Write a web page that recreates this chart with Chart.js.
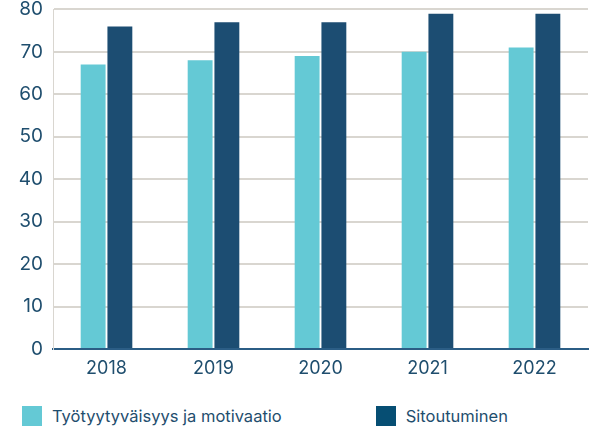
<!DOCTYPE html>
<html lang="fi">
<head>
<meta charset="UTF-8" />
<title>Työtyytyväisyys ja sitoutuminen</title>
<script src="https://cdn.jsdelivr.net/npm/chart.js"></script>
<style>
  body { margin: 0; background: #fff; font-family: Inter, "Open Sans", sans-serif; overflow: hidden; }
  #wrap { position: relative; width: 593px; height: 428px; overflow: hidden; }
  #box { position: absolute; left: 0; top: -12px; width: 593px; height: 397px; }
  #legend { position: absolute; left: 22px; top: 406px; display: flex; }
  .item { display: flex; align-items: center; font-size: 16.5px; color: #1f4e6e; }
  .sw { width: 20px; height: 20px; margin-right: 10px; }
</style>
</head>
<body>
<div id="wrap">
  <div id="box"><canvas id="chart"></canvas></div>
  <div id="legend"></div>
</div>
<script>
const years = ['2018', '2019', '2020', '2021', '2022'];
const tyytyvaisyys = [67, 68, 69, 70, 71];
const sitoutuminen = [76, 77, 77, 79, 79];
const seriesNames = ['Työtyytyväisyys ja motivaatio', 'Sitoutuminen'];
const yTicks = [0, 10, 20, 30, 40, 50, 60, 70, 80];

const textColor = '#1f4e6e';
const colors = ['#64c9d5', '#1c4d72'];
const legendColors = ['#64c9d5', '#064e73'];

new Chart(document.getElementById('chart'), {
  type: 'bar',
  data: {
    labels: years,
    datasets: [
      { label: seriesNames[0], data: tyytyvaisyys, backgroundColor: colors[0] },
      { label: seriesNames[1], data: sitoutuminen, backgroundColor: colors[1] }
    ]
  },
  options: {
    responsive: true,
    maintainAspectRatio: false,
    animation: false,
    categoryPercentage: 0.5,
    barPercentage: 0.93,
    layout: { padding: { top: 0, right: 5, left: 0, bottom: 0 } },
    plugins: { legend: { display: false }, tooltip: { enabled: false } },
    scales: {
      x: {
        afterFit: axis => { axis.height = 36; },
        grid: { display: false },
        border: { color: '#2b5d85', width: 2 },
        ticks: { color: textColor, font: { size: 18, family: 'Inter' }, padding: 1 }
      },
      y: {
        min: 0,
        max: 80,
        afterFit: axis => { axis.width = 53; },
        afterBuildTicks: axis => { axis.ticks = yTicks.map(v => ({ value: v })); },
        grid: {
          color: ctx => ctx.tick.value === 0 ? '#2b5d85' : '#d9d6d0',
          lineWidth: 2,
          drawTicks: false
        },
        border: { color: '#d9d6d0', width: 1 },
        ticks: { color: textColor, font: { size: 19, family: 'Inter' }, padding: 10 }
      }
    }
  }
});

const legend = document.getElementById('legend');
seriesNames.forEach((name, i) => {
  const item = document.createElement('div');
  item.className = 'item';
  item.style.marginRight = i === 0 ? '94px' : '0';
  item.innerHTML = '<span class="sw" style="background:' + legendColors[i] + '"></span>' + name;
  legend.appendChild(item);
});
</script>
</body>
</html>
